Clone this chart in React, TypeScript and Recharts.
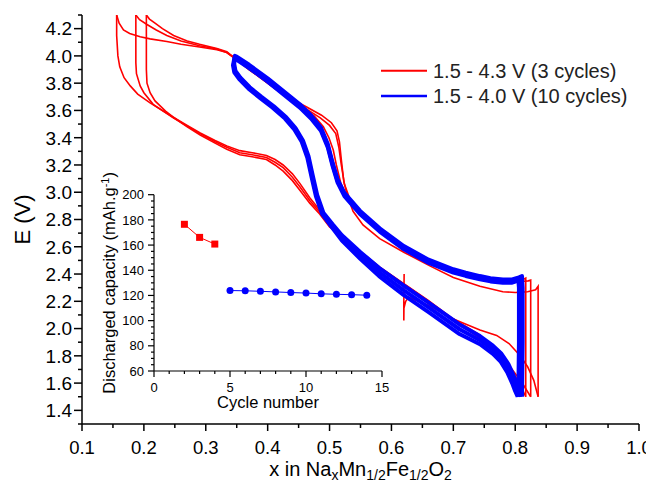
import { Line, LineChart, XAxis, YAxis } from "recharts";

type Pt = [number, number];

const FONT = '"Liberation Sans", Arial, sans-serif';
const RED = "#ff0000";
const BLUE = "#0000ff";

// main axes ticks
const xMajorTicks = [0.1, 0.2, 0.3, 0.4, 0.5, 0.6, 0.7, 0.8, 0.9, 1.0];
const xMinorTicks = [0.15, 0.25, 0.35, 0.45, 0.55, 0.65, 0.75, 0.85, 0.95];
const eMajorTicks = [1.4, 1.6, 1.8, 2.0, 2.2, 2.4, 2.6, 2.8, 3.0, 3.2, 3.4, 3.6, 3.8, 4.0, 4.2];
const eMinorTicks = [1.3, 1.5, 1.7, 1.9, 2.1, 2.3, 2.5, 2.7, 2.9, 3.1, 3.3, 3.5, 3.7, 3.9, 4.1, 4.3];

// 1.5 - 4.3 V, 3 cycles  [x in NaxMn1/2Fe1/2O2, E (V)]
const redFirstDischarge: Pt[] = [
  [0.6205, 2.4], [0.62, 2.2], [0.62, 2.06], [0.6202, 2.15], [0.623, 2.2], [0.628, 2.23],
  [0.66, 2.17], [0.7, 2.07], [0.743, 1.99], [0.77, 1.95], [0.79, 1.89], [0.808, 1.8],
  [0.82, 1.72], [0.83, 1.62], [0.837, 1.5],
];
const redCharge1: Pt[] = [
  [0.837, 1.5], [0.837, 2.31], [0.833, 2.285], [0.82, 2.27], [0.8, 2.265], [0.78, 2.27],
  [0.743, 2.31], [0.7, 2.375], [0.662, 2.46], [0.62, 2.56], [0.581, 2.66], [0.554, 2.76],
  [0.538, 2.86], [0.529, 2.97], [0.523, 3.08], [0.519, 3.24], [0.516, 3.37], [0.512, 3.45],
  [0.503, 3.51], [0.487, 3.565], [0.463, 3.625], [0.43, 3.705], [0.4, 3.805], [0.37, 3.905],
  [0.35, 3.975], [0.334, 4.025], [0.318, 4.045], [0.29, 4.065], [0.26, 4.085], [0.237, 4.105],
  [0.21, 4.125], [0.194, 4.14], [0.177, 4.165], [0.167, 4.19], [0.16, 4.24], [0.156, 4.3],
];
const redDischarge1: Pt[] = [
  [0.156, 4.3], [0.156, 4.15], [0.158, 4.0], [0.161, 3.92], [0.168, 3.84], [0.178, 3.78],
  [0.19, 3.72], [0.21, 3.655], [0.2475, 3.55], [0.27, 3.49], [0.291, 3.435], [0.315, 3.38],
  [0.334, 3.34], [0.355, 3.305], [0.375, 3.29], [0.398, 3.27], [0.412, 3.24], [0.425, 3.2],
  [0.44, 3.135], [0.452, 3.065], [0.468, 2.96], [0.484, 2.87], [0.5, 2.765], [0.52, 2.685],
  [0.55, 2.565], [0.58, 2.455], [0.62, 2.33], [0.66, 2.205], [0.7, 2.07], [0.74, 1.96],
  [0.765, 1.86], [0.78, 1.78], [0.795, 1.7], [0.81, 1.61], [0.825, 1.5],
];
const redCharge2: Pt[] = [
  [0.825, 1.5], [0.825, 2.355], [0.821, 2.35], [0.81, 2.345], [0.79, 2.345], [0.77, 2.35],
  [0.743, 2.375], [0.7, 2.43], [0.66, 2.5], [0.62, 2.6], [0.581, 2.73], [0.549, 2.86],
  [0.532, 2.96], [0.524, 3.06], [0.519, 3.2], [0.515, 3.33], [0.51, 3.43], [0.5, 3.49],
  [0.485, 3.545], [0.463, 3.61], [0.43, 3.7], [0.4, 3.8], [0.37, 3.9], [0.35, 3.97],
  [0.334, 4.025], [0.318, 4.05], [0.29, 4.075], [0.26, 4.11], [0.237, 4.15], [0.22, 4.19],
  [0.205, 4.23], [0.193, 4.265], [0.187, 4.3],
];
const redDischarge2: Pt[] = [
  [0.187, 4.3], [0.187, 4.1], [0.187, 3.95], [0.188, 3.87], [0.194, 3.78], [0.2, 3.73],
  [0.215, 3.645], [0.2475, 3.545], [0.27, 3.485], [0.291, 3.43], [0.315, 3.37], [0.334, 3.33],
  [0.355, 3.29], [0.375, 3.275], [0.398, 3.255], [0.412, 3.22], [0.425, 3.18], [0.44, 3.11],
  [0.452, 3.04], [0.468, 2.94], [0.484, 2.855], [0.5, 2.755], [0.52, 2.68], [0.55, 2.56],
  [0.58, 2.45], [0.62, 2.325], [0.66, 2.2], [0.7, 2.065], [0.743, 1.94], [0.765, 1.85],
  [0.78, 1.76], [0.796, 1.68], [0.808, 1.59], [0.817, 1.5],
];
const redCharge3: Pt[] = [
  [0.817, 1.5], [0.817, 2.37], [0.813, 2.36], [0.8, 2.35], [0.78, 2.35], [0.743, 2.38],
  [0.7, 2.43], [0.66, 2.5], [0.62, 2.6], [0.581, 2.73], [0.549, 2.86], [0.527, 2.97],
  [0.518, 3.07], [0.511, 3.2], [0.506, 3.31], [0.499, 3.4], [0.49, 3.48], [0.475, 3.56],
  [0.463, 3.6], [0.43, 3.7], [0.4, 3.8], [0.37, 3.9], [0.35, 3.97], [0.334, 4.03],
  [0.318, 4.055], [0.29, 4.085], [0.27, 4.11], [0.248, 4.15], [0.23, 4.2], [0.218, 4.24],
  [0.209, 4.27], [0.204, 4.3],
];
const redDischarge3: Pt[] = [
  [0.204, 4.3], [0.204, 4.1], [0.204, 3.9], [0.205, 3.8], [0.21, 3.73], [0.218, 3.67],
  [0.235, 3.595], [0.2475, 3.55], [0.27, 3.48], [0.291, 3.42], [0.315, 3.36], [0.334, 3.315],
  [0.355, 3.275], [0.375, 3.26], [0.398, 3.24], [0.412, 3.2], [0.425, 3.155], [0.44, 3.085],
  [0.452, 3.015], [0.468, 2.92], [0.484, 2.84], [0.5, 2.745], [0.52, 2.675], [0.55, 2.555],
  [0.58, 2.445], [0.62, 2.32], [0.66, 2.195], [0.7, 2.06], [0.743, 1.93], [0.764, 1.86],
  [0.777, 1.8], [0.789, 1.72], [0.797, 1.64], [0.804, 1.56], [0.808, 1.5],
];

// 1.5 - 4.0 V, 10 cycles (first, middle, last shown)
const blueCycleFirst: Pt[] = [
  [0.811, 1.5], [0.812, 1.9], [0.812, 2.3], [0.811, 2.385], [0.806, 2.375], [0.795, 2.36],
  [0.78, 2.36], [0.76, 2.37], [0.743, 2.385], [0.72, 2.41], [0.7, 2.435], [0.66, 2.505],
  [0.62, 2.605], [0.581, 2.735], [0.549, 2.865], [0.524, 2.995], [0.513, 3.095], [0.505, 3.215],
  [0.497, 3.355], [0.486, 3.475], [0.47, 3.565], [0.452, 3.645], [0.43, 3.725], [0.4, 3.835],
  [0.37, 3.935], [0.35, 3.995], [0.347, 4.0], [0.346, 3.94], [0.348, 3.89], [0.356, 3.84],
  [0.371, 3.77], [0.39, 3.7], [0.41, 3.63], [0.43, 3.55], [0.445, 3.47], [0.457, 3.38],
  [0.466, 3.265], [0.473, 3.12], [0.48, 2.98], [0.49, 2.85], [0.505, 2.765], [0.52, 2.685],
  [0.55, 2.56], [0.58, 2.445], [0.62, 2.315], [0.66, 2.19], [0.71, 2.03], [0.743, 1.945],
  [0.764, 1.875], [0.777, 1.82], [0.789, 1.74], [0.797, 1.66], [0.804, 1.58], [0.809, 1.5],
];
const blueCycleMid: Pt[] = [
  [0.808, 1.5], [0.809, 1.9], [0.809, 2.3], [0.808, 2.37], [0.803, 2.36], [0.795, 2.348],
  [0.78, 2.348], [0.76, 2.358], [0.743, 2.373], [0.72, 2.398], [0.7, 2.423], [0.66, 2.493],
  [0.62, 2.593], [0.581, 2.723], [0.549, 2.853], [0.524, 2.983], [0.513, 3.083], [0.505, 3.203],
  [0.497, 3.343], [0.486, 3.463], [0.47, 3.553], [0.452, 3.633], [0.43, 3.713], [0.4, 3.823],
  [0.37, 3.923], [0.35, 3.983], [0.347, 3.99], [0.345, 3.935], [0.347, 3.885], [0.355, 3.835],
  [0.37, 3.765], [0.389, 3.695], [0.409, 3.625], [0.429, 3.545], [0.444, 3.465], [0.456, 3.375],
  [0.465, 3.26], [0.472, 3.115], [0.479, 2.975], [0.489, 2.845], [0.505, 2.75], [0.52, 2.665],
  [0.55, 2.535], [0.58, 2.415], [0.62, 2.28], [0.66, 2.155], [0.71, 1.995], [0.743, 1.915],
  [0.764, 1.845], [0.777, 1.79], [0.788, 1.71], [0.796, 1.63], [0.802, 1.56], [0.806, 1.5],
];
const blueCycleLast: Pt[] = [
  [0.805, 1.5], [0.806, 1.9], [0.806, 2.3], [0.805, 2.355], [0.8, 2.345], [0.795, 2.336],
  [0.78, 2.336], [0.76, 2.346], [0.743, 2.361], [0.72, 2.386], [0.7, 2.411], [0.66, 2.481],
  [0.62, 2.581], [0.581, 2.711], [0.549, 2.841], [0.524, 2.971], [0.513, 3.071], [0.505, 3.191],
  [0.497, 3.331], [0.486, 3.451], [0.47, 3.541], [0.452, 3.621], [0.43, 3.701], [0.4, 3.811],
  [0.37, 3.911], [0.35, 3.971], [0.346, 3.98], [0.344, 3.93], [0.346, 3.88], [0.354, 3.83],
  [0.369, 3.76], [0.388, 3.69], [0.408, 3.62], [0.428, 3.54], [0.443, 3.46], [0.455, 3.37],
  [0.464, 3.255], [0.471, 3.11], [0.478, 2.97], [0.488, 2.84], [0.505, 2.735], [0.52, 2.645],
  [0.55, 2.51], [0.58, 2.385], [0.62, 2.245], [0.66, 2.12], [0.71, 1.96], [0.743, 1.885],
  [0.764, 1.815], [0.776, 1.76], [0.787, 1.68], [0.795, 1.6], [0.8, 1.54], [0.804, 1.5],
];

// inset: discharged capacity vs cycle number
const redCycleNumbers = [2, 3, 4];
const redCapacity = [176.5, 166.1, 160.8];
const blueCycleNumbers = [5, 6, 7, 8, 9, 10, 11, 12, 13, 14];
const blueCapacity = [123.9, 123.7, 123.3, 122.8, 122.3, 121.9, 121.3, 120.9, 120.6, 120.2];
const cycleMajorTicks = [0, 5, 10, 15];
const cycleAllTicks = [0, 1, 2, 3, 4, 5, 6, 7, 8, 9, 10, 11, 12, 13, 14, 15];
const capMajorTicks = [60, 80, 100, 120, 140, 160, 180, 200];
const capAllTicks = [
  60, 65, 70, 75, 80, 85, 90, 95, 100, 105, 110, 115, 120, 125, 130, 135, 140, 145, 150,
  155, 160, 165, 170, 175, 180, 185, 190, 195, 200,
];

const rows = (pts: Pt[]) => pts.map(([x, e]) => ({ x, e }));
const capRows = (cycles: number[], caps: number[]) =>
  cycles.map((c, i) => ({ cycle: c, cap: caps[i] }));

const xTicks = [...xMajorTicks, ...xMinorTicks].sort((a, b) => a - b);
const eTicks = [...eMajorTicks, ...eMinorTicks].sort((a, b) => a - b);

const redSeries = [redFirstDischarge, redCharge1, redDischarge1, redCharge2, redDischarge2, redCharge3, redDischarge3];
const blueSeries = [blueCycleFirst, blueCycleMid, blueCycleLast];

function MainXTick(props: any) {
  const { x, y, payload } = props;
  const major = xMajorTicks.includes(payload.value);
  return (
    <g>
      <line x1={x} x2={x} y1={y} y2={y + (major ? 7 : 4)} stroke="#000" strokeWidth={1.5} />
      {major && (
        <text x={x} y={y + 30} textAnchor="middle" fontSize={18.5} fontFamily={FONT} fill="#000">
          {payload.value.toFixed(1)}
        </text>
      )}
    </g>
  );
}

function MainYTick(props: any) {
  const { x, y, payload } = props;
  const major = eMajorTicks.includes(payload.value);
  return (
    <g>
      <line x1={x} x2={x - (major ? 8 : 4)} y1={y} y2={y} stroke="#000" strokeWidth={1.5} />
      {major && (
        <text x={x - 10} y={y} dy="0.36em" textAnchor="end" fontSize={19} fontFamily={FONT} fill="#000">
          {payload.value.toFixed(1)}
        </text>
      )}
    </g>
  );
}

function InsetXTick(props: any) {
  const { x, y, payload } = props;
  const major = cycleMajorTicks.includes(payload.value);
  return (
    <g>
      <line x1={x} x2={x} y1={y} y2={y + (major ? 6 : 3)} stroke="#000" strokeWidth={1.2} />
      {major && (
        <text x={x} y={y + 20.5} textAnchor="middle" fontSize={13} fontFamily={FONT} fill="#000">
          {payload.value}
        </text>
      )}
    </g>
  );
}

function InsetYTick(props: any) {
  const { x, y, payload } = props;
  const major = capMajorTicks.includes(payload.value);
  return (
    <g>
      <line x1={x} x2={x - (major ? 6 : 3)} y1={y} y2={y} stroke="#000" strokeWidth={1.2} />
      {major && (
        <text x={x - 10} y={y} dy="0.36em" textAnchor="end" fontSize={13} fontFamily={FONT} fill="#000">
          {payload.value}
        </text>
      )}
    </g>
  );
}

function MainXTitle(props: any) {
  const { x, y, width } = props.viewBox;
  return (
    <text x={x + width / 2} y={y + 52} textAnchor="middle" fontSize={20} fontFamily={FONT} fill="#000">
      x in Na<tspan dy={3.5} fontSize={14}>x</tspan>
      <tspan dy={-3.5}>Mn</tspan><tspan dy={3.5} fontSize={14}>1/2</tspan>
      <tspan dy={-3.5}>Fe</tspan><tspan dy={3.5} fontSize={14}>1/2</tspan>
      <tspan dy={-3.5}>O</tspan><tspan dy={3.5} fontSize={14}>2</tspan>
    </text>
  );
}

function MainYTitle(props: any) {
  const { x, y, height } = props.viewBox;
  const cx = x + 14;
  const cy = y + height / 2;
  return (
    <text x={cx} y={cy} transform={`rotate(-90 ${cx} ${cy})`} textAnchor="middle" dy="0.36em" fontSize={22} fontFamily={FONT} fill="#000">
      E (V)
    </text>
  );
}

function InsetXTitle(props: any) {
  const { x, y, width } = props.viewBox;
  return (
    <text x={x + width / 2} y={y + 37} textAnchor="middle" fontSize={16.5} fontFamily={FONT} fill="#000">
      Cycle number
    </text>
  );
}

function InsetYTitle(props: any) {
  const { x, y, height } = props.viewBox;
  const cx = x + 19;
  const cy = y + height / 2;
  return (
    <text x={cx} y={cy} transform={`rotate(-90 ${cx} ${cy})`} textAnchor="middle" dy="0.36em" fontSize={16.5} fontFamily={FONT} fill="#000">
      Discharged capacity (mAh.g<tspan dy={-6} fontSize={11}>-1</tspan><tspan dy={6}>)</tspan>
    </text>
  );
}

function RedSquare(props: any) {
  const { cx, cy } = props;
  return <rect x={cx - 3.5} y={cy - 3.5} width={7} height={7} fill={RED} />;
}

function LegendBox() {
  const items = [
    { color: RED, label: "1.5 - 4.3 V (3 cycles)", width: 2 },
    { color: BLUE, label: "1.5 - 4.0 V (10 cycles)", width: 2.5 },
  ];
  return (
    <svg width={270} height={60} style={{ position: "absolute", left: 370, top: 50 }}>
      {items.map((it, i) => (
        <g key={it.label}>
          <line x1={3} x2={49} y1={12.7 + i * 25.3} y2={12.7 + i * 25.3} stroke={it.color} strokeWidth={it.width} />
          <text x={55} y={12.7 + i * 25.3} dy="0.36em" fontSize={20} fontFamily={FONT} fill="#222">
            {it.label}
          </text>
        </g>
      ))}
    </svg>
  );
}

export default function App() {
  return (
    <div style={{ position: "relative", width: 646, height: 474, fontFamily: FONT }}>
      <LineChart width={646} height={474} margin={{ top: 7, right: 15, bottom: 0, left: 0 }}>
        <XAxis
          type="number"
          dataKey="x"
          domain={[0.1, 1.0]}
          allowDataOverflow
          ticks={xTicks}
          interval={0}
          tickSize={0}
          tickMargin={0}
          tickLine={false}
          tick={(p: any) => <MainXTick {...p} />}
          axisLine={{ stroke: "#000", strokeWidth: 1.5 }}
          height={58}
          label={(p: any) => <MainXTitle {...p} />}
        />
        <YAxis
          type="number"
          dataKey="e"
          domain={[1.3, 4.3]}
          allowDataOverflow
          ticks={eTicks}
          interval={0}
          tickSize={0}
          tickMargin={0}
          tickLine={false}
          tick={(p: any) => <MainYTick {...p} />}
          axisLine={{ stroke: "#000", strokeWidth: 1.5 }}
          width={74}
          label={(p: any) => <MainYTitle {...p} />}
        />
        {redSeries.map((s, i) => (
          <Line
            key={`red-${i}`}
            data={rows(s)}
            dataKey="e"
            type="linear"
            stroke={RED}
            strokeWidth={1.6}
            dot={false}
            isAnimationActive={false}
          />
        ))}
        {blueSeries.map((s, i) => (
          <Line
            key={`blue-${i}`}
            data={rows(s)}
            dataKey="e"
            type="linear"
            stroke={BLUE}
            strokeWidth={4}
            strokeLinejoin="round"
            dot={false}
            isAnimationActive={false}
          />
        ))}
      </LineChart>

      <div style={{ position: "absolute", left: 82, top: 142 }}>
        <LineChart width={300} height={270} margin={{ top: 44.7, right: 8, bottom: 0, left: 0 }}>
          <XAxis
            type="number"
            dataKey="cycle"
            domain={[0, 15]}
            ticks={cycleAllTicks}
            interval={0}
            tickSize={0}
            tickMargin={0}
            tickLine={false}
            tick={(p: any) => <InsetXTick {...p} />}
            axisLine={{ stroke: "#000", strokeWidth: 1.2 }}
            height={49}
            label={(p: any) => <InsetXTitle {...p} />}
          />
          <YAxis
            type="number"
            dataKey="cap"
            domain={[60, 200]}
            ticks={capAllTicks}
            interval={0}
            tickSize={0}
            tickMargin={0}
            tickLine={false}
            tick={(p: any) => <InsetYTick {...p} />}
            axisLine={{ stroke: "#000", strokeWidth: 1.2 }}
            width={64}
            label={(p: any) => <InsetYTitle {...p} />}
          />
          <Line
            data={capRows(redCycleNumbers, redCapacity)}
            dataKey="cap"
            stroke={RED}
            strokeWidth={1}
            dot={(p: any) => <RedSquare key={`sq-${p.index}`} {...p} />}
            isAnimationActive={false}
          />
          <Line
            data={capRows(blueCycleNumbers, blueCapacity)}
            dataKey="cap"
            stroke={BLUE}
            strokeWidth={1}
            dot={{ r: 3.5, fill: BLUE, stroke: BLUE, strokeWidth: 0 }}
            isAnimationActive={false}
          />
        </LineChart>
      </div>

      <LegendBox />
    </div>
  );
}
